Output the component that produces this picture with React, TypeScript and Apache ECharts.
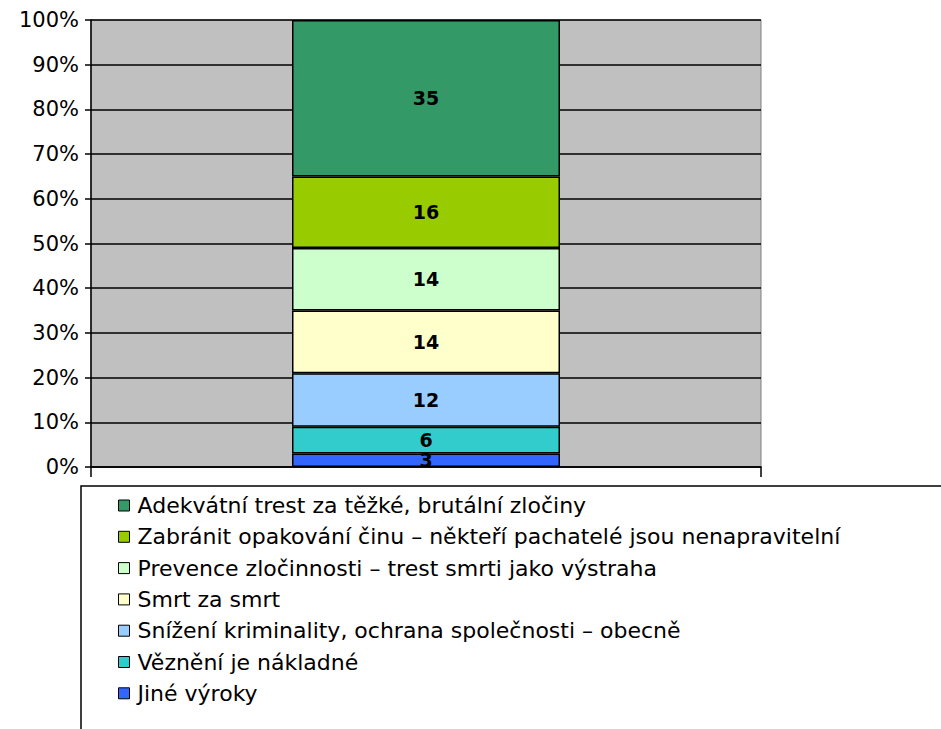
import React, { useEffect, useRef } from "react";
import * as echarts from "echarts";

const categories = ["2007"];
const seriesNames = [
  "Jiné výroky",
  "Věznění je nákladné",
  "Snížení kriminality, ochrana společnosti – obecně",
  "Smrt za smrt",
  "Prevence zločinnosti – trest smrti jako výstraha",
  "Zabránit opakování činu – někteří pachatelé jsou nenapravitelní",
  "Adekvátní trest za těžké, brutální zločiny",
];
const seriesValues = [3, 6, 12, 14, 14, 16, 35];
const seriesColors = ["#3366FF", "#33CCCC", "#99CCFF", "#FFFFCC", "#CCFFCC", "#99CC00", "#339966"];
const yTicks = [0, 10, 20, 30, 40, 50, 60, 70, 80, 90, 100];

const FONT = "DejaVu Sans, Verdana, sans-serif";

export default function App() {
  const ref = useRef<HTMLDivElement>(null);
  useEffect(() => {
    document.body.style.margin = "0";
    const chart = echarts.init(ref.current!, null, { renderer: "svg" });
    chart.setOption({
      animation: false,
      grid: {
        left: 91,
        right: 180,
        top: 20,
        bottom: 262,
        show: true,
        backgroundColor: "#C0C0C0",
        borderColor: "#808080",
        borderWidth: 1,
      },
      xAxis: {
        type: "category",
        data: categories,
        axisLine: { lineStyle: { color: "#000", width: 1.5 } },
        axisTick: { show: true, length: 10, lineStyle: { color: "#000", width: 1.5 } },
        axisLabel: { show: false },
      },
      yAxis: {
        type: "value",
        min: yTicks[0],
        max: yTicks[yTicks.length - 1],
        interval: 10,
        axisLine: { show: true, lineStyle: { color: "#000", width: 1.5 } },
        axisTick: { show: true, length: 6, lineStyle: { color: "#000", width: 1.5 } },
        axisLabel: { formatter: "{value}%", color: "#000", fontSize: 21, fontFamily: FONT, margin: 12 },
        splitLine: { lineStyle: { color: "#000", width: 1.5 } },
      },
      legend: {
        orient: "vertical",
        left: 113,
        top: 489.5,
        itemWidth: 11,
        itemHeight: 11,
        itemGap: 9.3,
        icon: "rect",
        data: seriesNames.slice().reverse(),
        textStyle: { fontSize: 22, fontFamily: FONT, color: "#000", lineHeight: 22, padding: [0, 0, 0, 3] },
        itemStyle: { borderColor: "#000", borderWidth: 1 },
      },
      graphic: [
        {
          type: "rect",
          shape: { x: 81, y: 486, width: 900, height: 300 },
          style: { fill: "none", stroke: "#000", lineWidth: 1.5 },
          silent: true,
          z: -1,
        },
      ],
      series: seriesNames.map((name, i) => ({
        name,
        type: "bar",
        stack: "total",
        barWidth: "40%",
        data: [seriesValues[i]],
        itemStyle: { color: seriesColors[i], borderColor: "#000", borderWidth: 1.5 },
        label: {
          show: true,
          position: "inside",
          color: "#000",
          fontWeight: "bold",
          fontSize: 19,
          lineHeight: 19,
          fontFamily: FONT,
        },
      })),
    });
    return () => chart.dispose();
  }, []);
  return <div ref={ref} style={{ width: 941, height: 729 }} />;
}
